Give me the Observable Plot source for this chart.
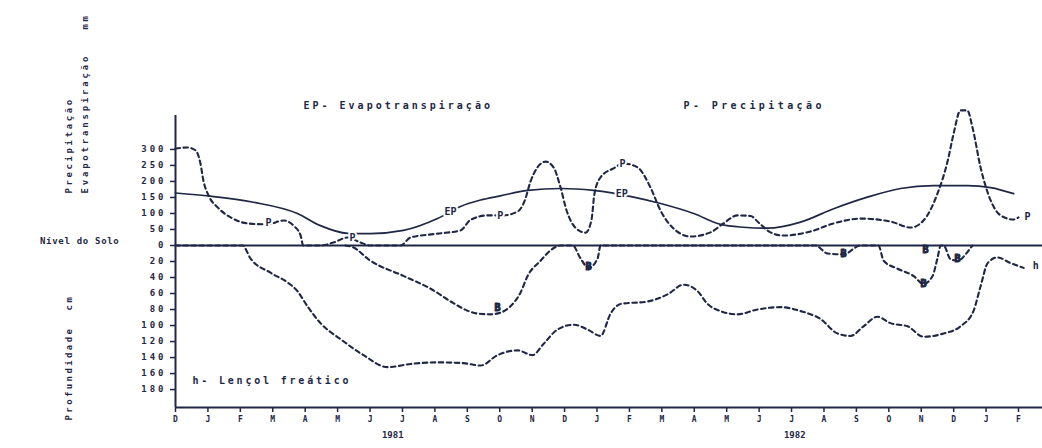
<!DOCTYPE html>
<html><head><meta charset="utf-8">
<script src="https://cdn.jsdelivr.net/npm/d3@7"></script>
<script src="https://cdn.jsdelivr.net/npm/@observablehq/plot@0.6"></script>
<style>
html,body{margin:0;padding:0;background:#fff;}
#chart{width:1042px;height:448px;}
#chart svg text{font-weight:bold;}
</style></head><body><div id="chart"></div>
<script>
// ---- categories / tick labels ----
const monthLabels = ["D","J","F","M","A","M","J","J","A","S","O","N","D","J","F","M","A","M","J","J","A","S","O","N","D","J","F"];
const yearLabels = ["1981","1982"];
const yearMonths = [6.7, 19.1];
const rainTicks = [0, 50, 100, 150, 200, 250, 300];          // mm
const depthTicks = [20, 40, 60, 80, 100, 120, 140, 160, 180]; // cm

// ---- EP: evapotranspiração (mm), x = months since Dec 1980 ----
const epMonths = [0, 1.08, 2.41, 3.76, 4.47, 5.31, 6.01, 7.03, 8.08, 8.79, 9.41, 10.02, 10.86, 11.88, 12.89, 14.13, 14.96, 15.98, 16.81, 17.52, 18.26, 19.28, 20.30, 21.34, 22.36, 23.38, 24.43, 25.14, 25.85];
const epValues = [164, 154, 135, 100, 62, 38, 37, 47, 84, 122, 142, 155, 172, 178, 172, 151, 131, 100, 66, 57, 54, 73, 115, 151, 178, 187, 187, 181, 162];

// ---- P: precipitação (mm) ----
const pMonths = [0, 0.37, 0.62, 0.77, 0.86, 1.02, 1.30, 1.70, 2.22, 2.84, 3.33, 3.64, 3.86, 3.94, 4.47, 4.87, 5.31, 5.71, 6.01, 6.94, 7.25, 8.08, 8.79, 9.10, 9.62, 10.09, 10.55, 10.77, 10.95, 11.17, 11.42, 11.66, 11.88, 12.06, 12.34, 12.65, 12.83, 12.92, 13.11, 13.51, 13.82, 14.25, 14.65, 14.96, 15.36, 15.89, 16.50, 16.90, 17.33, 17.74, 17.98, 18.35, 18.75, 19.59, 20.30, 21.13, 22.05, 22.67, 23.07, 23.50, 23.82, 24.00, 24.21, 24.42, 24.58, 24.83, 25.14, 25.45, 25.85, 26.00];
const pValues = [303, 306, 297, 256, 203, 156, 119, 88, 69, 66, 78, 62, 31, 0, 0, 9, 25, 9, 0, 0, 25, 37, 47, 80, 94, 94, 106, 140, 200, 245, 262, 244, 180, 110, 55, 40, 80, 160, 213, 241, 256, 244, 181, 109, 53, 28, 41, 69, 94, 92, 72, 41, 31, 44, 69, 84, 75, 56, 78, 162, 266, 350, 422, 422, 369, 244, 141, 94, 81, 88];

// ---- h: lençol freático, profundidade (cm) ----
const hMonths = [0, 2.07, 2.31, 2.93, 3.45, 3.76, 4.07, 4.47, 5.09, 5.80, 6.54, 7.25, 8.08, 8.88, 9.41, 9.93, 10.55, 11.01, 11.35, 11.78, 12.28, 12.71, 13.11, 13.42, 13.73, 14.56, 15.18, 15.67, 16.10, 16.41, 16.81, 17.33, 17.95, 18.66, 19.28, 19.90, 20.42, 20.82, 21.22, 21.65, 22.05, 22.58, 23.07, 23.69, 24.21, 24.61, 24.83, 25.05, 25.35, 25.76, 26.16];
const hValues = [0, 0, 16, 34, 46, 57, 76, 97, 117, 137, 152, 148, 146, 147, 150, 137, 131, 137, 123, 105, 99, 105, 113, 85, 73, 70, 61, 49, 57, 73, 82, 86, 80, 77, 82, 92, 110, 113, 101, 89, 97, 101, 114, 110, 101, 82, 51, 22, 15, 22, 28];

// ---- B curve (cm below soil level) ----
const bMonths = [5.24, 5.46, 6.01, 7.03, 7.87, 8.57, 9.04, 9.31, 9.72, 10.02, 10.33, 10.64, 10.86, 11.26, 11.57, 11.88, 12.25, 12.49, 12.74, 13.02, 13.11, 19.74, 20.11, 20.60, 21.13, 21.68, 21.84, 22.27, 22.76, 23.07, 23.35, 23.50, 23.60, 23.69, 23.90, 24.12, 24.43, 24.58];
const bValues = [0, 2, 19, 38, 54, 72, 82, 85, 86, 84, 76, 59, 38, 19, 6, 0, 0, 16, 28, 16, 0, 0, 10, 11, 0, 0, 19, 29, 38, 48, 38, 16, 0, 0, 17, 19, 8, 0];

// ---- curve labels ----
const pLabelMonths = [2.87, 5.46, 10.02, 13.79, 26.28];
const pLabelValues = [72, 25, 94, 256, 91];
const epLabelMonths = [8.48, 13.76];
const epLabelValues = [106, 162];
const bLabelMonths = [9.93, 12.74, 20.60, 23.13, 23.07, 24.12];
const bLabelValues = [78, 26, 10, 6, 48, 16];
const hLabelMonths = [26.53];
const hLabelValues = [25];

const DEPTH_SCALE = 2.5; // cm -> shared vertical units (20 cm ≈ 50 mm on the page)
const ink = "#1f2744";

const rows = (ms, vs) => ms.map((m, i) => ({m, v: vs[i]}));
const ep = rows(epMonths, epValues);
const pr = rows(pMonths, pValues);
const hh = rows(hMonths, hValues);
const bb = rows(bMonths, bValues);
const depthY = d => -d.v * DEPTH_SCALE;

const yDomain = [-506, 406];
const yTicks = [...rainTicks, ...depthTicks.map(d => -d * DEPTH_SCALE)];

const dash = {curve: "monotone-x", stroke: ink, strokeWidth: 2.1, strokeDasharray: "4.5,3.5"};
const halo = {stroke: "white", strokeWidth: 4, fill: ink, fontSize: 10, fontWeight: "bold"};

const chart = Plot.plot({
  width: 1042,
  height: 448,
  marginLeft: 175,
  marginRight: 0,
  marginTop: 115,
  marginBottom: 41,
  style: {fontFamily: "DejaVu Sans Mono, monospace", fontSize: "8px", color: ink, background: "white"},
  x: {type: "linear", domain: [0, 26.74], label: null},
  y: {type: "linear", domain: yDomain, label: null},
  marks: [
    Plot.ruleY([0], {stroke: ink, strokeWidth: 2}),
    Plot.ruleY([yDomain[0]], {stroke: ink, strokeWidth: 2}),
    Plot.ruleX([0], {stroke: ink, strokeWidth: 2}),
    Plot.axisY({ticks: yTicks, tickFormat: d => d >= 0 ? String(d) : String(Math.round(-d / DEPTH_SCALE)), tickSize: 5, tickPadding: 4, fontSize: 9, stroke: ink, strokeWidth: 1.5}),
    Plot.axisX({ticks: d3.range(monthLabels.length), tickFormat: i => monthLabels[i], tickSize: 5, tickPadding: 4, fontSize: 8, stroke: ink, strokeWidth: 1.5}),
    Plot.line(ep, {x: "m", y: "v", curve: "monotone-x", stroke: ink, strokeWidth: 1.7}),
    Plot.line(pr, {x: "m", y: "v", ...dash}),
    Plot.line(hh, {x: "m", y: depthY, ...dash}),
    Plot.line(bb, {x: "m", y: depthY, ...dash}),
    Plot.text(rows(pLabelMonths, pLabelValues), {x: "m", y: "v", text: () => "P", ...halo}),
    Plot.text(rows(epLabelMonths, epLabelValues), {x: "m", y: "v", text: () => "EP", ...halo}),
    Plot.text(rows(bLabelMonths, bLabelValues), {x: "m", y: depthY, text: () => "B", fill: ink, fontSize: 10, fontWeight: "bold", stroke: ink, strokeWidth: 1}),
    Plot.text(rows(hLabelMonths, hLabelValues), {x: "m", y: depthY, text: () => "h", ...halo}),
    Plot.text(yearLabels, {x: (d, i) => yearMonths[i], frameAnchor: "bottom", dy: 30, fontSize: 9, fill: ink}),
    Plot.text(["EP- Evapotranspiração"], {frameAnchor: "top-left", dx: 128, dy: -14, textAnchor: "start", fontSize: 10, fill: ink}),
    Plot.text(["P- Precipitação"], {frameAnchor: "top-left", dx: 508, dy: -14, textAnchor: "start", fontSize: 10, fill: ink}),
    Plot.text(["h- Lençol freático"], {frameAnchor: "bottom-left", dx: 17, dy: -24, textAnchor: "start", fontSize: 10, fill: ink}),
    Plot.text(["Nível do Solo"], {x: () => 0, y: () => 0, dx: -56, dy: -4, textAnchor: "end", fontSize: 9, fill: ink}),
    Plot.text(["Precipitação"], {frameAnchor: "top-left", dx: -110, dy: 78, rotate: -90, textAnchor: "start", fontSize: 9, fill: ink}),
    Plot.text(["Evapotranspiração"], {frameAnchor: "top-left", dx: -94, dy: 78, rotate: -90, textAnchor: "start", fontSize: 9, fill: ink}),
    Plot.text(["mm"], {frameAnchor: "top-left", dx: -94, dy: -94, rotate: -90, textAnchor: "middle", fontSize: 9, fill: ink}),
    Plot.text(["Profundidade"], {frameAnchor: "top-left", dx: -110, dy: 305, rotate: -90, textAnchor: "start", fontSize: 9, fill: ink}),
    Plot.text(["cm"], {frameAnchor: "top-left", dx: -110, dy: 187, rotate: -90, textAnchor: "middle", fontSize: 9, fill: ink})
  ]
});
document.getElementById("chart").appendChild(chart);

// letter-spacing of the typewriter-like lettering
const spacing = new Map([
  ["EP- Evapotranspiração", 3], ["P- Precipitação", 3.4], ["h- Lençol freático", 2.8],
  ["Nível do Solo", 0.7], ["Precipitação", 2.6], ["Evapotranspiração", 2.8],
  ["Profundidade", 2.4], ["mm", 2.6], ["cm", 2.6]
]);
const yTickLabels = new Set([...rainTicks, ...depthTicks].map(String));
d3.select(chart).selectAll("text").each(function() {
  const t = this.textContent;
  if (spacing.has(t)) this.style.letterSpacing = spacing.get(t) + "px";
  else if (yTickLabels.has(t)) { this.style.letterSpacing = "3px"; this.style.fontSize = "9px"; }
});
</script>
</body></html>
